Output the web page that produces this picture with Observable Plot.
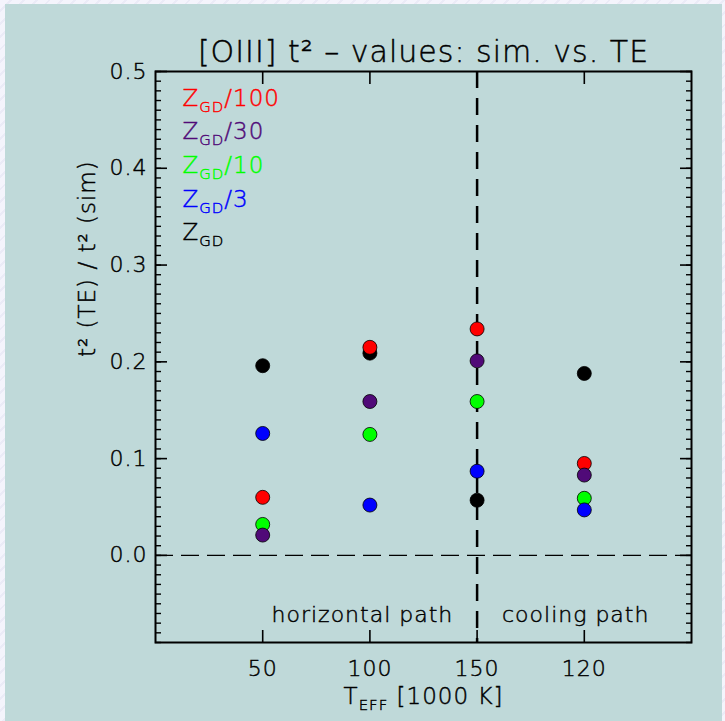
<!DOCTYPE html>
<html>
<head>
<meta charset="utf-8">
<script src="https://cdn.jsdelivr.net/npm/d3@7"></script>
<script src="https://cdn.jsdelivr.net/npm/@observablehq/plot@0.6"></script>
<style>
  html, body { margin: 0; padding: 0; }
  body {
    width: 725px; height: 721px; overflow: hidden; position: relative;
    background: repeating-linear-gradient(135deg, #f4f4fc 0 7px, #ebebf7 7px 9px);
  }
  #panel { position: absolute; left: 5px; top: 4px; width: 717px; height: 717px; background: #bfd9d9; }
  #panel svg text { letter-spacing: 1px; font-weight: 200; }
</style>
</head>
<body>
<div id="panel"></div>
<script>
// T_eff tick labels along the evolutionary track, at positions 1..4
const tempLabels = ["50", "100", "150", "120"];
const tempPos = [1, 2, 3, 4];

// metallicity models (legend order, top to bottom)
const models = ["Z_{GD}/100", "Z_{GD}/30", "Z_{GD}/10", "Z_{GD}/3", "Z_{GD}"];
const modelColors = ["#ff0000", "#500a78", "#00ff00", "#0000ff", "#000000"];

// t²(TE)/t²(sim) for each model at the four T_eff points
const ratioZ100 = [0.060, 0.215, 0.234, 0.095];
const ratioZ30  = [0.021, 0.159, 0.201, 0.083];
const ratioZ10  = [0.032, 0.125, 0.159, 0.059];
const ratioZ3   = [0.126, 0.052, 0.087, 0.047];
const ratioZ1   = [0.196, 0.209, 0.057, 0.188];

// path annotations
const pathNames = ["horizontal path", "cooling path"];
const pathX = [1.93, 3.92];
const pathY = [-0.069, -0.069];

const titleText = "[OIII] t² – values: sim. vs. TE";
const xTitle = "T_{EFF} [1000 K]";
const yTitle = "t² (TE) / t² (sim)";

// drawing order: solar first, then the others on top
const seriesOrder = [
  {model: models[4], color: modelColors[4], values: ratioZ1},
  {model: models[0], color: modelColors[0], values: ratioZ100},
  {model: models[2], color: modelColors[2], values: ratioZ10},
  {model: models[1], color: modelColors[1], values: ratioZ30},
  {model: models[3], color: modelColors[3], values: ratioZ3}
];
const points = seriesOrder.flatMap(s =>
  s.values.map((v, i) => ({pos: tempPos[i], value: v, color: s.color, model: s.model}))
);
const notes = pathNames.map((t, i) => ({text: t, x: pathX[i], y: pathY[i]}));

const minorTicks = d3.range(-9, 51).map(i => i / 100);
const majorTicks = [0, 0.1, 0.2, 0.3, 0.4, 0.5];

const legendMarks = models.map((m, i) =>
  Plot.text([m], {
    text: d => d, frameAnchor: "top-left", textAnchor: "start", lineAnchor: "bottom",
    dx: 27, dy: 34 + i * 33.7, fill: modelColors[i], fontSize: 23
  })
);

const chart = Plot.plot({
  width: 717,
  height: 717,
  marginLeft: 150,
  marginRight: 31,
  marginTop: 67,
  marginBottom: 79,
  style: {background: "transparent", fontFamily: "'DejaVu Sans', sans-serif", fontSize: "22px", color: "#000"},
  x: {type: "linear", domain: [0, 5]},
  y: {domain: [-0.09, 0.5]},
  marks: [
    Plot.ruleY([0], {stroke: "#000", strokeWidth: 1.2, strokeDasharray: "18,8"}),
    Plot.ruleX([3], {stroke: "#000", strokeWidth: 2.5, strokeDasharray: "17,10"}),
    Plot.dot(points, {x: "pos", y: "value", r: 7, fill: "color", stroke: "#000", strokeWidth: 0.8}),
    Plot.frame({stroke: "#000", strokeWidth: 2}),
    // x ticks (inward, bottom and top) and labels
    Plot.axisX(tempPos, {anchor: "bottom", tickSize: -12, text: null, label: null, strokeWidth: 1.6}),
    Plot.axisX(tempPos, {anchor: "top", tickSize: -12, text: null, label: null, strokeWidth: 1.6}),
    Plot.axisX(tempPos, {anchor: "bottom", tickSize: 0, tickPadding: 18, label: null, fontSize: 22,
      tickFormat: d => tempLabels[tempPos.indexOf(d)]}),
    // y ticks: major and minor, both sides
    Plot.axisY(majorTicks, {anchor: "left", tickSize: -12, text: null, label: null, strokeWidth: 1.6}),
    Plot.axisY(majorTicks, {anchor: "right", tickSize: -12, text: null, label: null, strokeWidth: 1.6}),
    Plot.axisY(minorTicks, {anchor: "left", tickSize: -6, text: null, label: null, strokeWidth: 1.4}),
    Plot.axisY(minorTicks, {anchor: "right", tickSize: -6, text: null, label: null, strokeWidth: 1.4}),
    Plot.axisY(majorTicks, {anchor: "left", tickSize: 0, tickPadding: 8, label: null, fontSize: 22,
      tickFormat: d3.format(".1f")}),
    // titles
    Plot.text([titleText], {text: d => d, frameAnchor: "top", dy: -31, fontSize: 30}),
    Plot.text([yTitle], {text: d => d, frameAnchor: "left", dx: -68, rotate: -90, fontSize: 23}),
    Plot.text([xTitle], {text: d => d, frameAnchor: "bottom", dy: 61, fontSize: 23}),
    // path annotations
    Plot.text(notes, {x: "x", y: "y", text: "text", lineAnchor: "bottom", fontSize: 22}),
    ...legendMarks
  ]
});

// render "A_{B}C" strings with a real subscript
d3.select(chart).selectAll("text").each(function() {
  const s = this.textContent;
  const m = s.match(/^(.*?)_\{(.+?)\}(.*)$/);
  if (!m) return;
  const el = d3.select(this);
  el.text(null);
  el.append("tspan").text(m[1]);
  el.append("tspan").attr("font-size", "0.65em").attr("dy", 6).text(m[2]);
  if (m[3]) el.append("tspan").attr("dy", -6).text(m[3]);
});

document.getElementById("panel").appendChild(chart);

// give the thin glyphs a hairline outline in their own colour
d3.select(chart).selectAll("text").each(function() {
  const fill = getComputedStyle(this).fill;
  this.style.stroke = fill;
  this.style.strokeWidth = "0.45px";
});
</script>
</body>
</html>
